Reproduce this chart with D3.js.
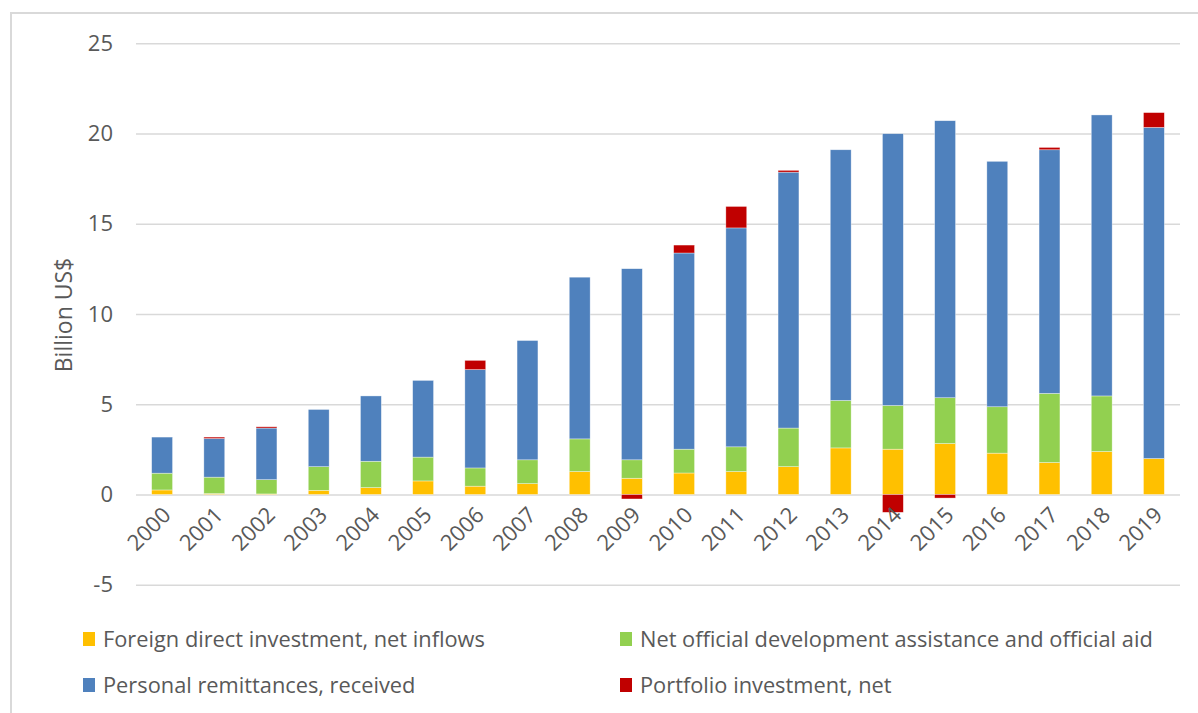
<!DOCTYPE html>
<html>
<head>
<meta charset="utf-8">
<script src="https://cdn.jsdelivr.net/npm/d3@7/dist/d3.min.js"></script>
<style>
  html, body { margin: 0; padding: 0; background: #fff; }
  svg { display: block; font-family: "Open Sans", sans-serif; }
</style>
</head>
<body>
<svg id="chart" width="1198" height="713"></svg>
<script>
const years = ["2000","2001","2002","2003","2004","2005","2006","2007","2008","2009",
               "2010","2011","2012","2013","2014","2015","2016","2017","2018","2019"];
const fdi = [0.25, 0.05, 0.03, 0.23, 0.38, 0.75, 0.46, 0.60, 1.27, 0.90,
             1.19, 1.27, 1.54, 2.58, 2.51, 2.82, 2.29, 1.77, 2.38, 1.99];
const oda = [0.93, 0.91, 0.79, 1.31, 1.46, 1.32, 1.01, 1.32, 1.81, 1.02,
             1.32, 1.37, 2.14, 2.63, 2.42, 2.54, 2.57, 3.83, 3.08, 0];
const remit = [2.00, 2.14, 2.86, 3.17, 3.62, 4.25, 5.45, 6.61, 8.96, 10.59,
               10.87, 12.13, 14.18, 13.89, 15.06, 15.35, 13.60, 13.50, 15.57, 18.35];
const portfolio = [0, 0.08, 0.07, 0, 0, 0, 0.51, 0, 0, -0.25,
                   0.44, 1.19, 0.10, 0, -0.99, -0.20, 0, 0.13, 0, 0.82];
const yTicks = [-5, 0, 5, 10, 15, 20, 25];

const seriesKeys = ["fdi", "oda", "remit", "portfolio"];
const seriesNames = {
  fdi: "Foreign direct investment, net inflows",
  oda: "Net official development assistance and official aid",
  remit: "Personal remittances, received",
  portfolio: "Portfolio investment, net"
};
const colors = { fdi: "#FFC000", oda: "#92D050", remit: "#4F81BD", portfolio: "#C00000" };

const table = years.map((y, i) => ({ year: y, fdi: fdi[i], oda: oda[i], remit: remit[i], portfolio: portfolio[i] }));

const svg = d3.select("#chart");
const textColor = "#595959";

// outer chart border (cropped at right/bottom)
svg.append("rect")
  .attr("x", 11).attr("y", 13).attr("width", 1300).attr("height", 800)
  .attr("fill", "none").attr("stroke", "#d9d9d9").attr("stroke-width", 2);

const x = d3.scaleBand().domain(years).range([136, 1180]).paddingInner(0.6).paddingOuter(0.3);
const y = d3.scaleLinear().domain([-5, 25]).range([584.7, 43.3]);

// gridlines + tick labels
const yAxis = d3.axisLeft(y).tickValues(yTicks).tickSize(-(1180 - 136)).tickFormat(d => String(d));
const gy = svg.append("g").attr("transform", "translate(136,0)").call(yAxis);
gy.select(".domain").remove();
gy.selectAll(".tick line").attr("stroke", "#d9d9d9").attr("stroke-width", 1.6);
gy.selectAll(".tick text")
  .attr("x", -23)
  .attr("fill", textColor)
  .style("font-size", "22px")
  .style("font-family", "'Open Sans', sans-serif");

// stacked bars
const stack = d3.stack().keys(seriesKeys).offset(d3.stackOffsetDiverging);
const stacked = stack(table);

svg.append("g").selectAll("g")
  .data(stacked)
  .join("g")
  .attr("fill", d => colors[d.key])
  .selectAll("rect")
  .data(d => d)
  .join("rect")
  .attr("x", d => x(d.data.year))
  .attr("width", x.bandwidth())
  .attr("y", d => y(Math.max(d[0], d[1])))
  .attr("height", d => Math.abs(y(d[0]) - y(d[1])))
  .attr("stroke", "#ffffff")
  .attr("stroke-width", 0.6)
  .attr("stroke-opacity", 0.6);

// x labels
const xAxis = d3.axisBottom(x).tickSize(0);
const gx = svg.append("g").attr("transform", `translate(0,${y(0)})`).call(xAxis);
gx.select(".domain").remove();
gx.selectAll(".tick text")
  .attr("fill", textColor)
  .style("font-size", "22px")
  .style("font-family", "'Open Sans', sans-serif")
  .attr("text-anchor", "end")
  .attr("y", 0)
  .attr("dy", 0)
  .attr("transform", "translate(10,22) rotate(-45)");

// y axis title
svg.append("text")
  .attr("transform", "translate(72,315) rotate(-90)")
  .attr("text-anchor", "middle")
  .attr("fill", textColor)
  .style("font-size", "23px")
  .text("Billion US$");

// legend
const legendItems = [
  { key: "fdi", x: 83, y: 639 },
  { key: "oda", x: 620, y: 639 },
  { key: "remit", x: 83, y: 685 },
  { key: "portfolio", x: 620, y: 685 }
];
const lg = svg.append("g").selectAll("g").data(legendItems).join("g")
  .attr("transform", d => `translate(${d.x},${d.y})`);
lg.append("rect").attr("x", 0).attr("y", -7).attr("width", 12).attr("height", 14)
  .attr("fill", d => colors[d.key]);
lg.append("text").attr("x", 20).attr("y", 0).attr("dy", "0.35em")
  .attr("fill", textColor)
  .style("font-size", "21.8px")
  .text(d => seriesNames[d.key]);
</script>
</body>
</html>
